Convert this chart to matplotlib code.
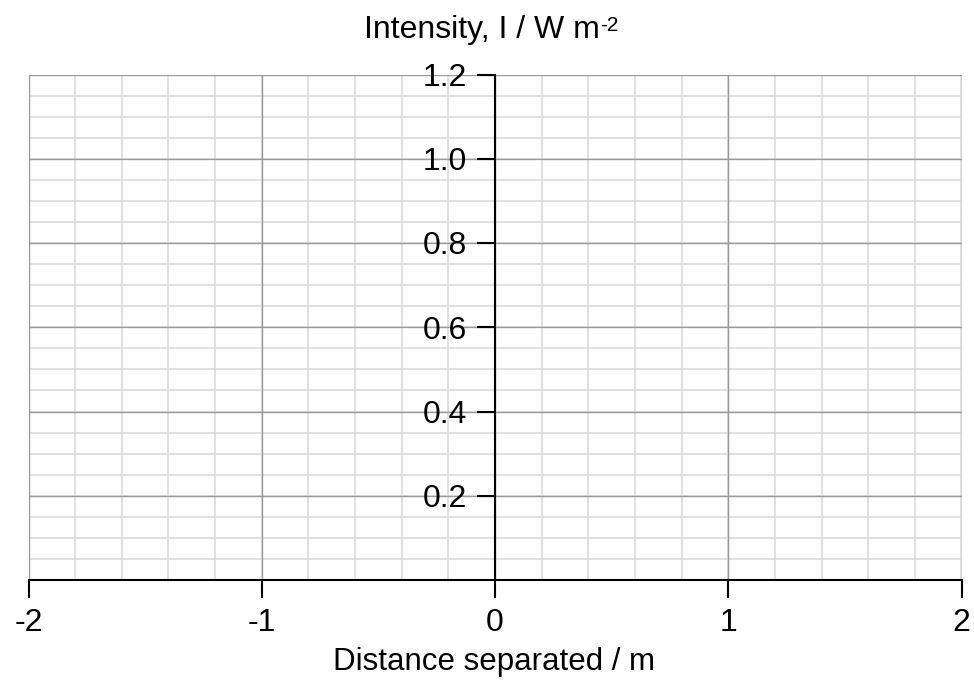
import matplotlib
matplotlib.use("Agg")
import matplotlib.pyplot as plt
import numpy as np

plt.rcParams['font.family'] = ['Liberation Sans', 'DejaVu Sans']

x_ticks = [-2, -1, 0, 1, 2]
x_labels = ['-2', '-1', '0', '1', '2']
y_ticks = [0.2, 0.4, 0.6, 0.8, 1.0, 1.2]
y_labels = ['0.2', '0.4', '0.6', '0.8', '1.0', '1.2']
x_range = (-2, 2)
y_range = (0, 1.2)

fig = plt.figure(figsize=(9.74, 6.81), dpi=100)
L, R, T, B = 28.5, 961.5, 74.5, 580
ax = fig.add_axes([L / 974, 1 - B / 681, (R - L) / 974, (B - T) / 681])
ax.set_xlim(*x_range)
ax.set_ylim(*y_range)

# grid
for xv in np.arange(-2, 2.0001, 0.2):
    ax.axvline(xv, color='#dcdcdc', lw=1.2, zorder=0.5)
for yv in np.arange(0, 1.2001, 0.05):
    ax.axhline(yv, color='#dcdcdc', lw=1.2, zorder=0.5)
for xv in x_ticks:
    ax.axvline(xv, color='#999999', lw=1.0, zorder=0.6)
for yv in y_ticks:
    ax.axhline(yv, color='#999999', lw=1.0, zorder=0.6)

for s in ['top', 'right']:
    ax.spines[s].set_visible(False)
ax.spines['left'].set_position(('data', 0))
ax.spines['left'].set_linewidth(1.5)
ax.spines['bottom'].set_linewidth(1.5)
ax.spines['left'].set_zorder(3)
ax.spines['bottom'].set_zorder(3)

ax.set_xticks(x_ticks)
ax.set_xticklabels(x_labels)
ax.set_yticks(y_ticks)
ax.set_yticklabels(y_labels)
ax.tick_params(axis='both', which='major', direction='out', length=13, width=1.5,
               labelsize=23, pad=7, color='black')
ax.tick_params(axis='both', which='minor', length=0)

t = fig.text(481.5 / 974, 1 - 30 / 681, 'Intensity, I / W m', ha='center', va='center', fontsize=23)
fig.canvas.draw()
bb = t.get_window_extent()
fig.text((bb.x1 + 1) / 974, (bb.y1 - 1) / 681, '-2', ha='left', va='top', fontsize=15)
fig.text(494 / 974, 1 - 662 / 681, 'Distance separated / m', ha='center', va='center', fontsize=22.5)

fig.savefig('out.png', dpi=100)
